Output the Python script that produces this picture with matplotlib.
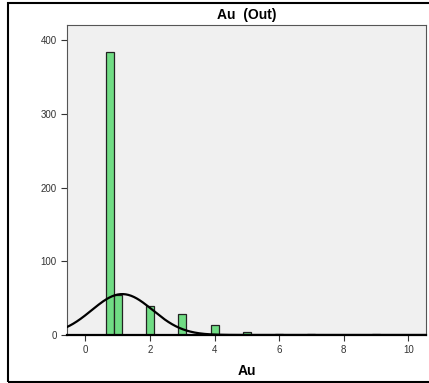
import numpy as np
import matplotlib
matplotlib.use("Agg")
import matplotlib.pyplot as plt
from matplotlib.patches import Rectangle

plt.rcParams["font.family"] = ["Liberation Sans", "DejaVu Sans"]

# histogram bins (centre, count), bin width 0.25
bin_centres = [0.75, 1.0, 2.0, 3.0, 4.0, 5.0, 6.0, 7.0, 9.0]
counts = [384, 55, 40, 28, 13, 4, 1, 1, 1]
bin_width = 0.25
x_ticks = [0, 2, 4, 6, 8, 10]
y_ticks = [0, 100, 200, 300, 400]

fig = plt.figure(figsize=(4.29, 3.83), dpi=100)
fig.patch.set_facecolor("white")
fig.patches.append(Rectangle((8 / 429, 1 / 383), 1.0, 379 / 383, transform=fig.transFigure,
                             fill=False, edgecolor="black", lw=1.5))

ax = fig.add_axes([67 / 429, 48 / 383, 359 / 429, 310 / 383])
ax.set_facecolor("#f0f0f0")
ax.bar(bin_centres, counts, width=bin_width, color="#70dc84", edgecolor="#222222",
       linewidth=0.9, zorder=2)

# fitted normal curve from the binned data
c = np.array(bin_centres)
n = np.array(counts)
total = n.sum()
mu = (c * n).sum() / total
sd = np.sqrt(((c - mu) ** 2 * n).sum() / total)
xs = np.linspace(-0.6, 10.6, 400)
ys = total * bin_width / (sd * np.sqrt(2 * np.pi)) * np.exp(-(xs - mu) ** 2 / (2 * sd ** 2))
ax.plot(xs, ys, color="black", lw=1.6, zorder=3)

ax.set_xlim(-0.57, 10.55)
ax.set_ylim(0, 421)
ax.set_xticks(x_ticks)
ax.set_yticks(y_ticks)
ax.tick_params(labelsize=7, colors="#333333", length=4, width=0.8, direction="out")
for s in ["top", "right", "left"]:
    ax.spines[s].set_color("#555555")
    ax.spines[s].set_linewidth(0.8)
ax.spines["bottom"].set_color("black")
ax.spines["bottom"].set_linewidth(1.6)
ax.spines["bottom"].set_zorder(4)

ax.set_title("Au  (Out)", fontsize=10, fontweight="bold", pad=4)
ax.set_xlabel("Au", fontsize=10, fontweight="bold", labelpad=6)

fig.savefig("out.png", dpi=100)
